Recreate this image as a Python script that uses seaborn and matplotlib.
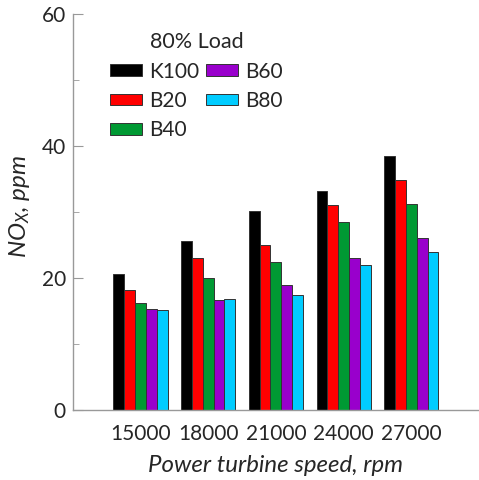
import matplotlib
matplotlib.use("Agg")
import matplotlib.pyplot as plt
import pandas as pd
import seaborn as sns
from matplotlib.ticker import MultipleLocator

speeds = ["15000", "18000", "21000", "24000", "27000"]
fuels = ["K100", "B20", "B40", "B60", "B80"]
k100 = [20.6, 25.6, 30.1, 33.1, 38.4]
b20 = [18.1, 23.0, 25.0, 31.0, 34.8]
b40 = [16.2, 20.0, 22.4, 28.4, 31.2]
b60 = [15.3, 16.6, 18.9, 23.0, 26.0]
b80 = [15.2, 16.8, 17.4, 22.0, 24.0]
fuel_colors = ["#000000", "#FF0000", "#009933", "#9900CC", "#00CCFF"]

rows = []
for fuel, vals in zip(fuels, [k100, b20, b40, b60, b80]):
    for s, v in zip(speeds, vals):
        rows.append({"speed": s, "fuel": fuel, "nox": v})
df = pd.DataFrame(rows)

sns.set_style("white")
plt.rcParams["font.family"] = ["Lato", "DejaVu Sans"]
plt.rcParams["mathtext.fontset"] = "custom"
plt.rcParams["mathtext.it"] = "Lato:italic"
plt.rcParams["mathtext.rm"] = "Lato"
plt.rcParams["mathtext.default"] = "it"

fig = plt.figure(figsize=(4.79, 4.80), dpi=100)
ax = fig.add_axes([0.152, 0.146, 0.848, 0.825])

sns.barplot(data=df, x="speed", y="nox", hue="fuel", order=speeds,
            hue_order=fuels, palette=fuel_colors, saturation=1, width=0.8,
            edgecolor="#333333", linewidth=0.7, ax=ax)

ax.set_xlim(-1, 5)
ax.set_ylim(0, 60)
ax.yaxis.set_major_locator(MultipleLocator(20))
ax.yaxis.set_minor_locator(MultipleLocator(10))
ax.tick_params(axis="y", which="major", direction="in", length=7,
               color="#999999", labelsize=15, left=True, pad=5)
ax.tick_params(axis="y", which="minor", direction="in", length=4,
               color="#999999", left=True)
ax.tick_params(axis="x", length=0, labelsize=15, pad=10)

for side in ["top", "right"]:
    ax.spines[side].set_visible(False)
for side in ["left", "bottom"]:
    ax.spines[side].set_color("#999999")
    ax.spines[side].set_linewidth(1.0)

ax.set_xlabel("Power turbine speed, rpm", fontsize=17.3, style="italic", labelpad=8)
ax.set_ylabel("NO$_X$, ppm", fontsize=17.5, style="italic", labelpad=7)
ax.yaxis.label.set_y(0.515)

leg = ax.legend(title="80% Load", ncol=2, frameon=False, fontsize=15,
                title_fontsize=15.5, loc="upper left",
                bbox_to_anchor=(0.19, 0.972), bbox_transform=fig.transFigure,
                handlelength=1.55, handleheight=0.5, handletextpad=0.35,
                columnspacing=0.3, labelspacing=0.45)

fig.savefig("out.png", dpi=100)
